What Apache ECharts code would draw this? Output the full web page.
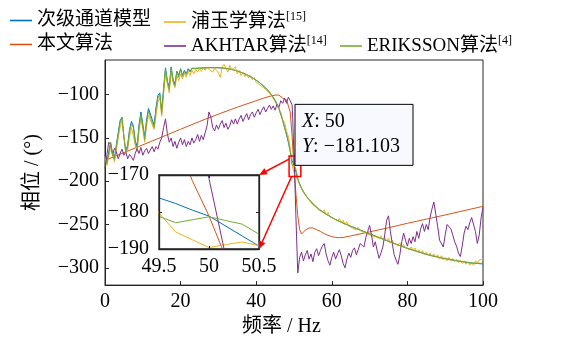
<!DOCTYPE html>
<html><head><meta charset="utf-8">
<script src="https://cdn.jsdelivr.net/npm/echarts@6/dist/echarts.min.js"></script>
<style>html,body{margin:0;padding:0;background:#fff}#c{width:580px;height:342px}</style>
</head><body><div id="c"></div>
<script>
// ---------- data ----------
const seriesNames = ['次级通道模型', '本文算法', '浦玉学算法[15]', 'AKHTAR算法[14]', 'ERIKSSON算法[4]'];
const colors = ['#0072BD', '#D95319', '#EDB120', '#7E2F8E', '#77AC30'];

// frequency grid (Hz): 0..49.5 step 0.5, fine points around 50, 51..100 step 0.5
const freq = [];
for (let i = 0; i < 100; i++) freq.push(i * 0.5);
freq.push(49.667, 49.833, 50, 50.167, 50.333, 50.5);
for (let i = 2; i <= 100; i++) freq.push(50 + i * 0.5);

const secondaryModel = [
  -170, -178, -166, -156, -168, -173, -158, -144, -130, -126,
  -148, -165, -158, -140, -131, -136, -153, -160, -135, -120,
  -134, -149, -129, -116, -114, -129, -135, -115, -101, -98,
  -119, -93, -69, -84, -92, -68, -82, -88, -73, -78,
  -70, -78, -72, -76, -70, -73, -69.5, -71.5, -69.5, -70.5,
  -69.4, -69.4, -69.2, -69.1, -68.9, -68.9, -68.8, -68.8, -68.8, -68.9,
  -68.9, -69, -69.2, -69.4, -69.7, -70, -70.4, -70.9, -71.4, -72,
  -72.7, -73.4, -74.2, -75.1, -76, -77, -78.1, -79.3, -80.6, -81.9,
  -83.3, -84.9, -86.5, -88.3, -90.2, -92.3, -94.6, -97.1, -99.9, -103.1,
  -106.5, -111, -116, -122.5, -129.5, -137.5, -145.5, -154.5, -165, -176.2,
  -177.7, -179.5, -181.103, -183.8, -186.5, -189.2,
  -197.5, -203.5, -208.3, -212.2, -215.8, -218.7, -221.3, -223.7, -226, -228.2,
  -230.2, -232, -233.6, -235.2, -236.7, -238.1, -239.4, -240.7, -242.1, -243.2,
  -244.3, -245.4, -246.4, -247.4, -248.4, -249.3, -250.2, -251.1, -252, -252.9,
  -253.8, -254.7, -255.6, -256.5, -257.4, -258.2, -259.1, -259.9, -260.7, -261.6,
  -262.5, -263.4, -264.3, -265.1, -266, -266.9, -267.8, -268.6, -269.5, -270.3,
  -271.1, -271.9, -272.8, -273.6, -274.4, -275.2, -276, -276.8, -277.6, -278.3,
  -279, -279.7, -280.4, -281.1, -281.8, -282.4, -283.1, -283.7, -284.3, -284.9,
  -285.5, -286.1, -286.6, -287.1, -287.6, -288.1, -288.6, -289.1, -289.5, -289.9,
  -290.3, -290.7, -291.1, -291.5, -291.9, -292.2, -292.6, -292.9, -293.2, -293.5,
  -293.8, -294.1, -294.3, -294.6, -294.8, -295, -295.2, -295.4, -295.6
];

const pyuxue = [
  -174, -182, -172, -160, -168, -178, -165, -150, -138, -130,
  -148, -166, -163, -148, -138, -140, -158, -166, -142, -128,
  -140, -155, -136, -124, -122, -135, -140, -124, -108, -104,
  -125, -100, -76, -88, -98, -74, -86, -92, -78, -84,
  -76, -82, -75, -80, -73, -78, -72, -76, -71, -74,
  -70, -73, -69, -72, -68, -71, -70, -74, -69, -72,
  -75, -80, -68, -65, -70, -74, -66, -71, -73, -68,
  -76, -72, -78, -74, -79, -76, -81, -78, -83, -80,
  -86, -84, -89, -87, -92, -91, -96, -95, -101, -102,
  -108, -110, -117, -120, -129, -132, -142, -148, -162, -180.3,
  -185.4, -187.5, -189.6, -188.8, -188.1, -189.1,
  -199, -204, -206, -213, -214, -219, -219, -225, -223, -229,
  -228, -233, -231, -236, -233, -239, -236, -241, -240, -243,
  -241, -246, -243, -248, -245, -250, -247, -252, -250, -254,
  -252, -256, -253, -257, -255, -259, -258, -261, -259, -263,
  -261, -264, -262, -266, -263, -268, -265, -269, -266, -271,
  -268, -272, -270, -274, -271, -276, -273, -277, -275, -279,
  -276, -280, -277, -282, -279, -283, -280, -285, -282, -286,
  -283, -287, -284, -288, -285, -290, -286, -291, -288, -292,
  -288, -292, -289, -293, -290, -294, -291, -295, -292, -296,
  -293, -297, -294, -297, -292, -295, -291, -293, -290
];

const akhtar = [
  -185, -170, -155, -158, -170, -162, -166, -174, -168, -163,
  -170, -166, -174, -169, -172, -176, -168, -162, -168, -161,
  -170, -165, -162, -168, -164, -160, -166, -160, -163, -155,
  -150, -138, -128, -145, -155, -150, -160, -154, -162, -155,
  -150, -158, -152, -160, -154, -158, -150, -156, -152, -146,
  -154, -147, -152, -144, -136, -120, -126, -138, -142, -135,
  -140, -134, -130, -138, -133, -140, -136, -129, -134, -128,
  -134, -128, -124, -131, -126, -122, -129, -123, -120, -126,
  -121, -117, -123, -118, -114, -120, -116, -112, -117, -113,
  -118, -111, -115, -107, -110, -104, -110, -103, -107, -112,
  -128, -150, -171, -192, -215, -240,
  -306, -288, -282, -292, -285, -280, -290, -284, -293, -282,
  -278, -286, -280, -275, -272, -284, -292, -297, -288, -282,
  -290, -284, -279, -286, -295, -300, -290, -283, -288, -280,
  -277, -285, -279, -272, -270, -276, -265, -258, -251, -262,
  -276, -270, -280, -289, -283, -276, -262, -245, -240, -258,
  -272, -285, -291, -296, -285, -270, -260, -268, -275, -266,
  -272, -264, -270, -258, -266, -255, -249, -258, -250, -256,
  -242, -232, -224, -238, -252, -268, -268, -276, -262, -250,
  -248, -255, -262, -270, -275, -283, -287, -275, -260, -252,
  -256, -248, -242, -240, -258, -272, -262, -242, -230
];

const eriksson = [
  -172, -180, -168, -155, -170, -175, -160, -146, -132, -127,
  -150, -168, -160, -142, -134, -138, -156, -163, -138, -123,
  -137, -152, -132, -119, -117, -132, -138, -118, -104, -100,
  -122, -96, -70, -86, -94, -69, -84, -90, -74, -80,
  -71, -79, -73, -77, -71, -74, -70, -72, -70, -71,
  -69.5, -69.5, -69.3, -69.2, -69, -69, -68.9, -68.9, -68.9, -69,
  -69, -69.1, -69.3, -69.5, -69.8, -70.1, -70.5, -71, -71.5, -72.1,
  -72.8, -73.5, -74.3, -75.2, -76.1, -77.1, -78.2, -79.4, -80.7, -82,
  -83.4, -85, -86.6, -88.4, -90.3, -92.4, -94.7, -97.2, -100, -103.2,
  -106.8, -111, -116, -123, -130, -138, -146, -155, -166, -181.2,
  -182.9, -182.1, -181.3, -182.3, -183.3, -186,
  -197, -203, -208, -212, -215.5, -218.5, -221, -223.5, -225.8, -228,
  -230, -231.8, -233.5, -235, -236.5, -238, -239.3, -240.6, -242, -243.1,
  -244.2, -245.3, -246.3, -247.3, -248.3, -249.2, -250.1, -251, -251.9, -252.8,
  -253.7, -254.6, -255.5, -256.4, -257.3, -258.1, -259, -259.8, -260.6, -261.5,
  -262.4, -263.3, -264.2, -265, -265.9, -266.8, -267.7, -268.5, -269.4, -270.2,
  -271, -271.8, -272.7, -273.5, -274.3, -275.1, -275.9, -276.7, -277.5, -278.2,
  -278.9, -279.6, -280.3, -281, -281.7, -282.3, -283, -283.6, -284.2, -284.8,
  -285.4, -286, -286.5, -287, -287.5, -288, -288.5, -289, -289.4, -289.8,
  -290.2, -290.6, -291, -291.4, -291.8, -292.1, -292.5, -292.8, -293.1, -293.4,
  -293.7, -294.5, -293.8, -294.8, -295.6, -294.6, -295.4, -294.8, -294.2
];

// proposed algorithm: smooth curve, its own frequency samples
const proposedFreq = [0, 5, 10, 15, 20, 25, 30, 35, 40, 42, 44, 45, 45.5, 46, 46.5, 47, 47.5, 48, 48.5, 49, 49.5,
  49.667, 49.833, 50, 50.167, 50.333, 50.5, 51, 51.5, 52, 52.5, 53, 53.5, 54,
  55, 56, 57, 58, 59, 60, 61, 62, 63, 65, 70, 75, 80, 85, 90, 95, 100];
const proposed = [-176, -167, -158, -149, -140, -131, -122.5, -114.5, -107, -104, -101.5, -100.5, -100.2, -100.5, -102, -104, -105.5, -106, -108, -120, -148,
  -160.5, -171.5, -181.1, -192.2, -203.3, -214, -240, -256, -261, -259, -256.5, -255, -254,
  -254, -256, -258, -260.5, -262.5, -264, -265, -265.2, -265, -263.2, -258.5, -253.8, -248.6, -243.8, -239, -234, -229];

const yTicksMain = [-300, -250, -200, -150, -100];
const insetX = [49.5, 50.5];
const insetY = [-190, -170];
const tipX = 50, tipY = -181.103;
const zoomBoxX = [48.7, 51.8], zoomBoxY = [-194.5, -171];

// ---------- chart ----------
const FONT = "'Liberation Serif', 'Noto Sans CJK SC', serif";
const AX = '#262626';
const minus = v => String(v).replace('-', '\u2212');

function pairs(xs, ys) { return xs.map((x, i) => [x, ys[i]]); }
const seriesData = [
  pairs(freq, secondaryModel),
  pairs(proposedFreq, proposed),
  pairs(freq, pyuxue),
  pairs(freq, akhtar),
  pairs(freq, eriksson)
];

function legendFmt(name) {
  const k = name.indexOf('[');
  if (k < 0) return '{t|' + name + '}';
  return '{t|' + name.slice(0, k) + '}{s|' + name.slice(k) + '}';
}
const legendPos = [[10, 11], [10, 35], [164, 11], [164, 35], [340, 35]];

const series = [];
seriesNames.forEach((n, i) => {
  series.push({ name: n, type: 'line', xAxisIndex: 0, yAxisIndex: 0, data: seriesData[i], symbol: 'none',
    lineStyle: { width: 1, color: colors[i] }, itemStyle: { color: colors[i] }, z: 2 });
});
seriesNames.forEach((n, i) => {
  series.push({ name: n, type: 'line', xAxisIndex: 1, yAxisIndex: 1, data: seriesData[i], symbol: 'none',
    lineStyle: { width: 1, color: colors[i] }, itemStyle: { color: colors[i] }, z: 12 });
});

const labelStyle = { color: '#000', fontSize: 20, fontFamily: FONT };

const option = {
  animation: false,
  backgroundColor: '#fff',
  legend: seriesNames.map((n, i) => ({
    data: [{ name: n, icon: 'rect' }], left: legendPos[i][0], top: legendPos[i][1], padding: 0,
    itemWidth: 22, itemHeight: 1.6, selectedMode: false,
    formatter: legendFmt,
    textStyle: {
      color: '#000', fontFamily: FONT, fontSize: 19,
      rich: {
        t: { fontSize: 19, fontFamily: FONT, lineHeight: 22, color: '#000' },
        s: { fontSize: 12, fontFamily: FONT, lineHeight: 13, verticalAlign: 'top', color: '#000' }
      }
    }
  })),
  grid: [
    { left: 105, top: 60, width: 378, height: 227, show: true, borderColor: AX, borderWidth: 1, backgroundColor: 'transparent' },
    { left: 159, top: 175, width: 100, height: 74, show: true, borderColor: AX, borderWidth: 1.3, backgroundColor: '#fff', z: 10 }
  ],
  xAxis: [
    { gridIndex: 0, type: 'value', min: 0, max: 100, interval: 20,
      name: '频率 / Hz', nameLocation: 'middle', nameGap: 30,
      nameTextStyle: { color: '#000', fontSize: 20, fontFamily: FONT, lineHeight: 20, padding: [0, 25, 0, 0] },
      axisLine: { show: true, lineStyle: { color: AX, width: 1 } },
      axisTick: { show: true, inside: true, length: 4, lineStyle: { color: AX } },
      axisLabel: Object.assign({ margin: 7, formatter: minus }, labelStyle),
      splitLine: { show: false } },
    { gridIndex: 1, type: 'value', min: insetX[0], max: insetX[1], interval: 0.5, z: 13,
      axisLine: { show: true, lineStyle: { color: AX, width: 1.3 } },
      axisTick: { show: true, inside: true, length: 3, lineStyle: { color: AX } },
      axisLabel: Object.assign({ margin: 8 }, labelStyle),
      splitLine: { show: false } },
    { gridIndex: 1, type: 'value', position: 'top', min: insetX[0], max: insetX[1], interval: 0.5, z: 13,
      axisLine: { show: true, lineStyle: { color: AX, width: 1.3 } },
      axisTick: { show: true, inside: true, length: 3, lineStyle: { color: AX } },
      axisLabel: { show: false }, splitLine: { show: false } }
  ],
  yAxis: [
    { gridIndex: 0, type: 'value', min: -320, max: -60,
      name: '相位 / (°)', nameLocation: 'middle', nameGap: 62,
      nameTextStyle: { color: '#000', fontSize: 20, fontFamily: FONT, lineHeight: 20 },
      axisLine: { show: true, lineStyle: { color: AX, width: 1 } },
      axisTick: { show: true, inside: true, length: 4, customValues: yTicksMain, lineStyle: { color: AX } },
      axisLabel: Object.assign({ margin: 6, formatter: minus, customValues: yTicksMain }, labelStyle),
      splitLine: { show: false } },
    { gridIndex: 1, type: 'value', min: insetY[0], max: insetY[1], interval: 10, z: 13,
      axisLine: { show: true, lineStyle: { color: AX, width: 1.3 } },
      axisTick: { show: true, inside: true, length: 3, lineStyle: { color: AX } },
      axisLabel: Object.assign({ margin: 10, formatter: minus }, labelStyle),
      splitLine: { show: false } },
    { gridIndex: 1, type: 'value', position: 'right', min: insetY[0], max: insetY[1], interval: 10, z: 13,
      axisLine: { show: true, lineStyle: { color: AX, width: 1.3 } },
      axisTick: { show: true, inside: true, length: 3, lineStyle: { color: AX } },
      axisLabel: { show: false }, splitLine: { show: false } }
  ],
  series: series
};

const chart = echarts.init(document.getElementById('c'), null, { renderer: 'canvas' });
chart.setOption(option);

// ---------- annotations placed through the axes ----------
const P = (g, v) => chart.convertToPixel({ gridIndex: g }, v);
const tip = P(0, [tipX, tipY]);
const zb1 = P(0, [zoomBoxX[0], zoomBoxY[1]]);
const zb2 = P(0, [zoomBoxX[1], zoomBoxY[0]]);
const inTop = P(1, [insetX[1], insetY[1]]);
const inBot = P(1, [insetX[1], insetY[0]]);

function arrow(x1, y1, x2, y2) {
  const a = Math.atan2(y2 - y1, x2 - x1), L = 8, W = 3.5;
  const bx = x2 - L * Math.cos(a), by = y2 - L * Math.sin(a);
  const nx = -Math.sin(a), ny = Math.cos(a);
  return [
    { type: 'line', z: 30, shape: { x1: x1, y1: y1, x2: bx, y2: by }, style: { stroke: '#ff0000', lineWidth: 1.5 } },
    { type: 'polygon', z: 30, shape: { points: [[x2, y2], [bx + nx * W, by + ny * W], [bx - nx * W, by - ny * W]] }, style: { fill: '#ff0000' } }
  ];
}

const boxW = 118, boxH = 61;
const bx0 = tip[0] + 1, by0 = tip[1] - boxH + 0.5;
const graphics = [
  { type: 'rect', z: 30, shape: { x: zb1[0], y: zb1[1], width: zb2[0] - zb1[0], height: zb2[1] - zb1[1] },
    style: { fill: 'none', stroke: '#ff0000', lineWidth: 1.5 } },
  ...arrow(zb1[0], zb1[1] + 3, inTop[0], inTop[1]),
  ...arrow(zb1[0] + 2.5, zb2[1], inBot[0], inBot[1]),
  { type: 'rect', z: 31, shape: { x: bx0, y: by0, width: boxW, height: boxH },
    style: { fill: '#f8f8ff', stroke: '#000', lineWidth: 1 } },
  { type: 'text', z: 32, x: bx0 + 7, y: by0 + 5,
    style: {
      text: '{i|X}{n|: ' + tipX + '}\n{i|Y}{n|: ' + minus(tipY) + '}',
      fill: '#000',
      rich: {
        i: { fontStyle: 'italic', fontSize: 20, fontFamily: FONT, lineHeight: 25, fill: '#000' },
        n: { fontSize: 20, fontFamily: FONT, lineHeight: 25, fill: '#000' }
      }
    } }
];
chart.setOption({ graphic: graphics });
</script>
</body></html>
